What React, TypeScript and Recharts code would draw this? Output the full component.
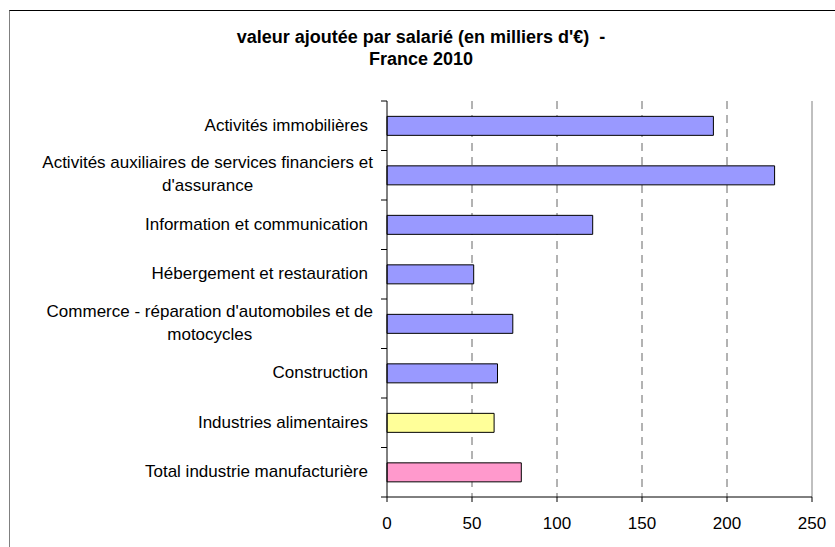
import React from 'react';
import { BarChart, Bar, XAxis, YAxis, CartesianGrid, Cell, ReferenceLine } from 'recharts';

const categories = [
  "Activités immobilières",
  "Activités auxiliaires de services financiers et\nd'assurance",
  "Information et communication",
  "Hébergement et restauration",
  "Commerce - réparation d'automobiles et de\nmotocycles",
  "Construction",
  "Industries alimentaires",
  "Total industrie manufacturière",
];
const values = [192, 228, 121, 51, 74, 65, 63, 79];
const barColors = ["#9999FF", "#9999FF", "#9999FF", "#9999FF", "#9999FF", "#9999FF", "#FFFF99", "#FF99CC"];
const xTicks = [0, 50, 100, 150, 200, 250];
const gridValues = [50, 100, 150, 200];
const titleLines = ["valeur ajoutée par salarié (en milliers d'€)  -", "France 2010"];

const data = categories.map((name, i) => ({ name, value: values[i], color: barColors[i] }));

const FONT = '"Liberation Sans", Arial, sans-serif';
let ctx: any = null;
function measure(t: string, size: number) {
  if (!ctx) ctx = document.createElement('canvas').getContext('2d');
  ctx.font = `${size}px "Liberation Sans", Arial, sans-serif`;
  return ctx.measureText(t).width;
}

const CategoryTick = (props: any) => {
  const { x, y, payload } = props;
  const idx = payload.index ?? props.index ?? 0;
  const half = payload.offset ?? 24.75;
  const lines = String(payload.value).split('\n');
  const right = x - 17;
  const maxW = Math.max(...lines.map((l) => measure(l, 17)));
  return (
    <g>
      <line x1={x - 6} x2={x} y1={y + half} y2={y + half} stroke="#000" />
      {idx === 0 && <line x1={x - 6} x2={x} y1={y - half} y2={y - half} stroke="#000" />}
      {lines.length === 1 ? (
        <text x={right - 2} y={y + 5} textAnchor="end" fontSize={17} fontFamily={FONT} fill="#000">
          {lines[0]}
        </text>
      ) : (
        lines.map((l, i) => (
          <text key={i} x={right + 3 - maxW / 2} y={y - 7 + 23 * i} textAnchor="middle" fontSize={17} fontFamily={FONT} fill="#000">
            {l}
          </text>
        ))
      )}
    </g>
  );
};

export default function App() {
  return (
    <div style={{ position: 'absolute', left: 0, top: 0, width: 835, height: 547, background: '#fff' }}>
      <div
        style={{
          position: 'absolute', left: 9, top: 10, width: 830, height: 540,
          borderTop: '1px solid #000', borderLeft: '1px solid #808080', boxSizing: 'border-box',
        }}
      />
      <div
        style={{
          position: 'absolute', left: 121, top: 26, width: 600, textAlign: 'center',
          fontFamily: FONT, fontWeight: 'bold', fontSize: 18, lineHeight: '22px', whiteSpace: 'pre', color: '#000',
        }}
      >
        {titleLines.map((t, i) => (
          <div key={i}>{t}</div>
        ))}
      </div>
      <div style={{ position: 'absolute', left: 0, top: 0 }}>
        <BarChart
          width={835}
          height={547}
          data={data}
          layout="vertical"
          margin={{ top: 101, right: 23, bottom: 20, left: 10 }}
          barCategoryGap="31%"
        >
          <CartesianGrid horizontal={false} vertical={true} stroke="#666" strokeDasharray="8 6" verticalValues={gridValues} />
          <XAxis
            type="number"
            domain={[0, 250]}
            ticks={xTicks}
            interval={0}
            height={30}
            axisLine={{ stroke: '#000' }}
            tickLine={{ stroke: '#000' }}
            tickSize={5}
            tickMargin={15}
            tick={{ fontSize: 17, fontFamily: FONT, fill: '#000' }}
          />
          <XAxis
            xAxisId="top"
            orientation="top"
            type="number"
            domain={[0, 250]}
            height={0}
            tick={false}
            tickLine={false}
            axisLine={{ stroke: '#808080' }}
          />
          <YAxis
            type="category"
            dataKey="name"
            width={377}
            axisLine={{ stroke: '#000' }}
            tickLine={false}
            tickSize={0}
            tickMargin={0}
            interval={0}
            tick={<CategoryTick />}
          />
          <ReferenceLine x={250} stroke="#808080" />
          <Bar dataKey="value" stroke="#000" strokeWidth={1} isAnimationActive={false}>
            {data.map((d, i) => (
              <Cell key={i} fill={d.color} />
            ))}
          </Bar>
        </BarChart>
      </div>
    </div>
  );
}
